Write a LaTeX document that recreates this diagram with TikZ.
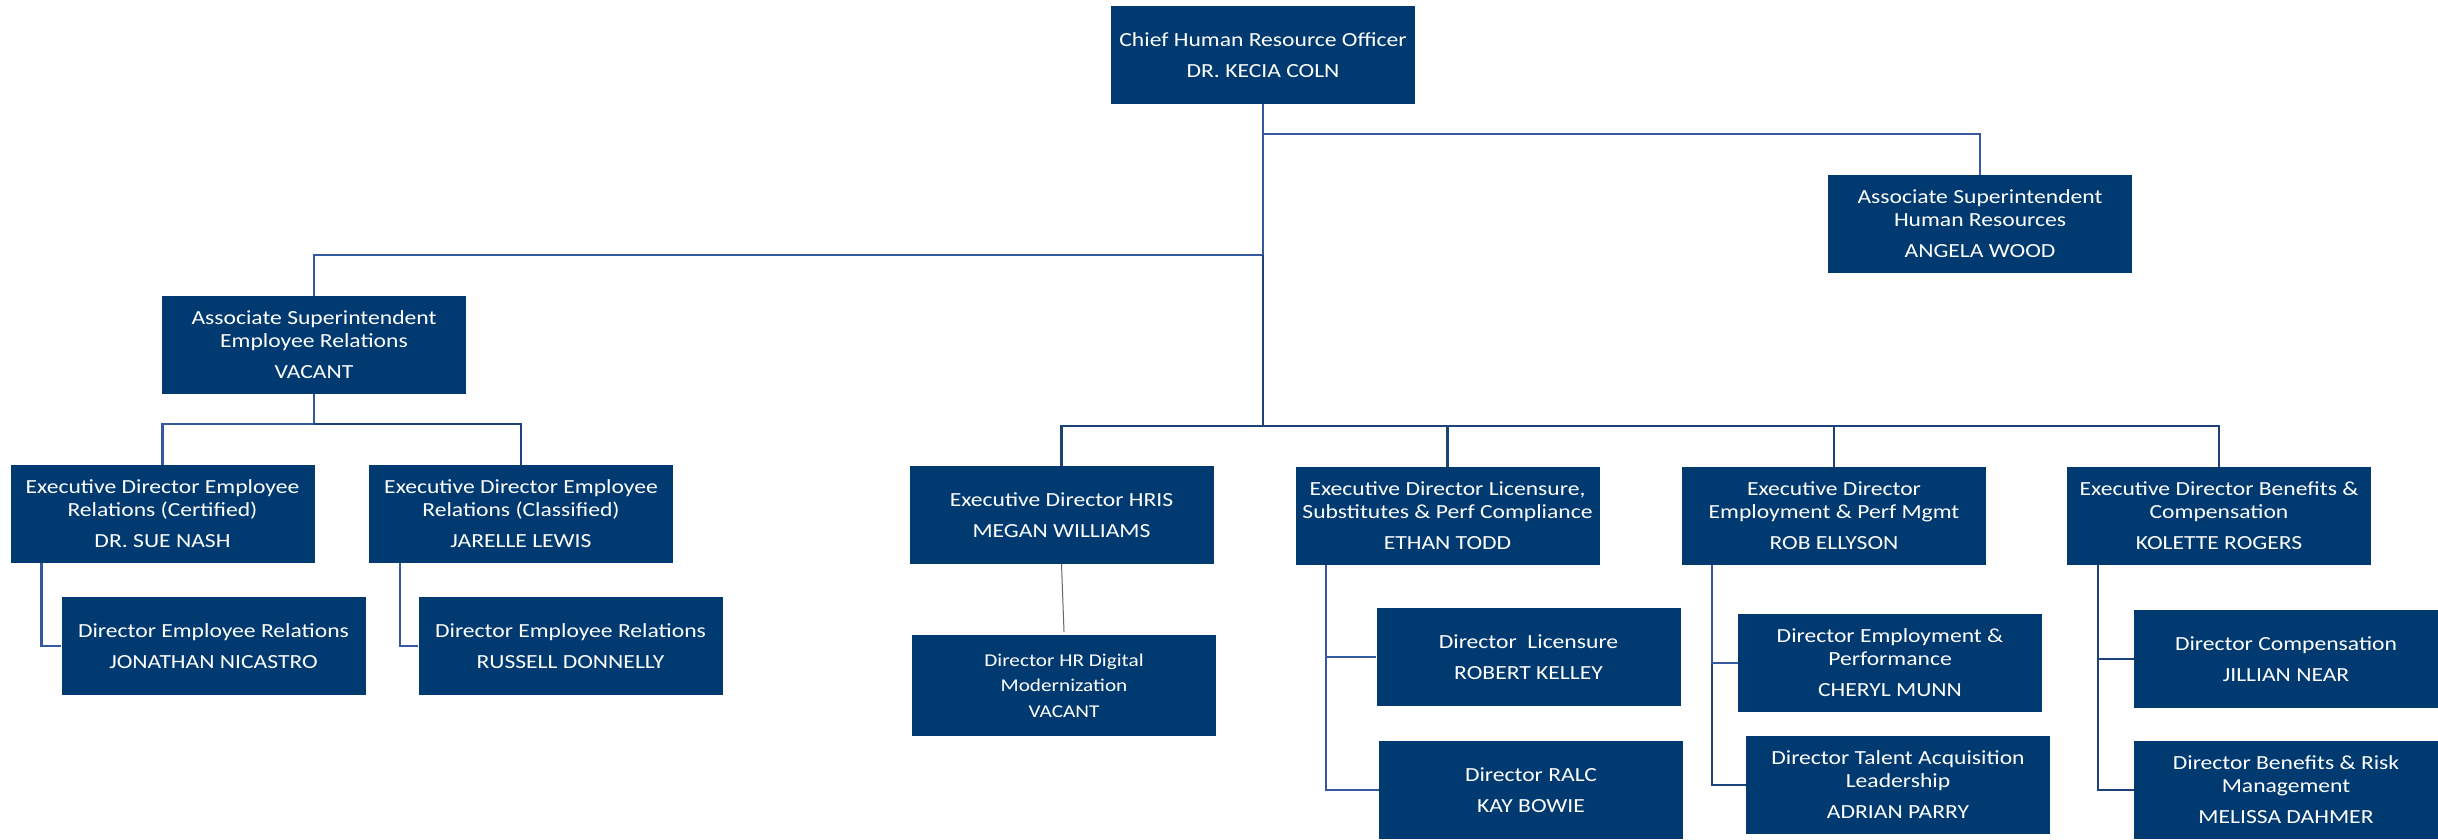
\documentclass[tikz,border=0pt]{standalone}
\usepackage{fontspec}
\setmainfont{Carlito}[FakeStretch=1.18]
\definecolor{navy}{HTML}{003A70}
\definecolor{lnblue}{HTML}{3558A0}
\definecolor{lnnavy}{HTML}{1C4278}
\begin{document}
\begin{tikzpicture}[x=1pt,y=-1pt,
  box/.style={fill=navy, text=white, align=center, inner sep=0pt,
    minimum width=304pt, minimum height=98pt,
    font=\fontsize{20}{23}\selectfont},
  bl/.style={draw=lnblue, line width=2.4pt},
  nv/.style={draw=lnnavy, line width=2.6pt}]
\useasboundingbox[fill=white] (0,0) rectangle (2438,839);
% boxes
\node[box] (chro) at (1263,55) {Chief Human Resource Officer\\[8pt]DR. KECIA COLN};
\node[box] (asw) at (1980,224) {Associate Superintendent\\Human Resources\\[8pt]ANGELA WOOD};
\node[box] (aser) at (314,345) {Associate Superintendent\\Employee Relations\\[8pt]VACANT};
\node[box] (edc) at (162.5,514) {Executive Director Employee\\Relations (Certified)\\[8pt]DR. SUE NASH};
\node[box] (edcl) at (521,514) {Executive Director Employee\\Relations (Classified)\\[8pt]JARELLE LEWIS};
\node[box] (der1) at (213.5,646) {Director Employee Relations\\[8pt]JONATHAN NICASTRO};
\node[box] (der2) at (570.5,646) {Director Employee Relations\\[8pt]RUSSELL DONNELLY};
\node[box] (hris) at (1061.5,515) {Executive Director HRIS\\[8pt]MEGAN WILLIAMS};
\node[box, minimum height=101pt, font=\fontsize{18}{25.5}\selectfont] (digi) at (1064,685.5) {Director HR Digital\\Modernization\\VACANT};
\node[box] (edl) at (1447.5,516) {Executive Director Licensure,\\Substitutes \& Perf Compliance\\[8pt]ETHAN TODD};
\node[box] (edep) at (1834,516) {Executive Director\\Employment \& Perf Mgmt\\[8pt]ROB ELLYSON};
\node[box] (edbc) at (2219,516) {Executive Director Benefits \&\\Compensation\\[8pt]KOLETTE ROGERS};
\node[box] (dlic) at (1528.5,657) {Director\ \ Licensure\\[8pt]ROBERT KELLEY};
\node[box] (dralc) at (1531,790) {Director RALC\\[8pt]KAY BOWIE};
\node[box] (demp) at (1890,663) {Director Employment \&\\Performance\\[8pt]CHERYL MUNN};
\node[box] (dtal) at (1898,785) {Director Talent Acquisition\\Leadership\\[8pt]ADRIAN PARRY};
\node[box] (dcomp) at (2286,659) {Director Compensation\\[8pt]JILLIAN NEAR};
\node[box] (dben) at (2286,790) {Director Benefits \& Risk\\Management\\[8pt]MELISSA DAHMER};
% bus points
\coordinate (b1) at (1263,134);
\coordinate (b2) at (1263,255);
\coordinate (b3) at (1263,426);
\coordinate (b4) at (314,424);
% top connectors
\draw[bl] (chro.south) -- (b2);
\draw[bl] (b1) -| (asw.north);
\draw[bl] (b2) -| (aser.north);
\draw[nv] (b2) -- (b3);
\draw[nv] (hris.north) |- (b3) -| (edbc.north);
\draw[nv] (edl.north) -- (edl.north |- b3);
\draw[nv] (edep.north) -- (edep.north |- b3);
% employee relations
\draw[bl] (aser.south) -- (b4);
\draw[bl] (b4) -| (edc.north);
\draw[nv] (b4) -| (edcl.north);
\draw[bl] ([xshift=-121pt]edc.south) |- (der1.west);
\draw[bl] ([xshift=-121pt]edcl.south) |- (der2.west);
% hris
\draw[draw=gray!80!black, line width=1pt] (hris.south) -- ([yshift=3pt]digi.north);
% licensure
\draw[bl] ([xshift=-121.5pt]edl.south) |- (dralc.west);
\draw[bl] ([xshift=-121.5pt]edl.south) |- (dlic.west);
% employment
\draw[nv] ([xshift=-122pt]edep.south) |- (dtal.west);
\draw[bl] ([xshift=-122pt]edep.south) |- (demp.west);
% benefits
\draw[nv] ([xshift=-121pt]edbc.south) |- (dben.west);
\draw[nv] ([xshift=-121pt]edbc.south) |- (dcomp.west);
\end{tikzpicture}
\end{document}
